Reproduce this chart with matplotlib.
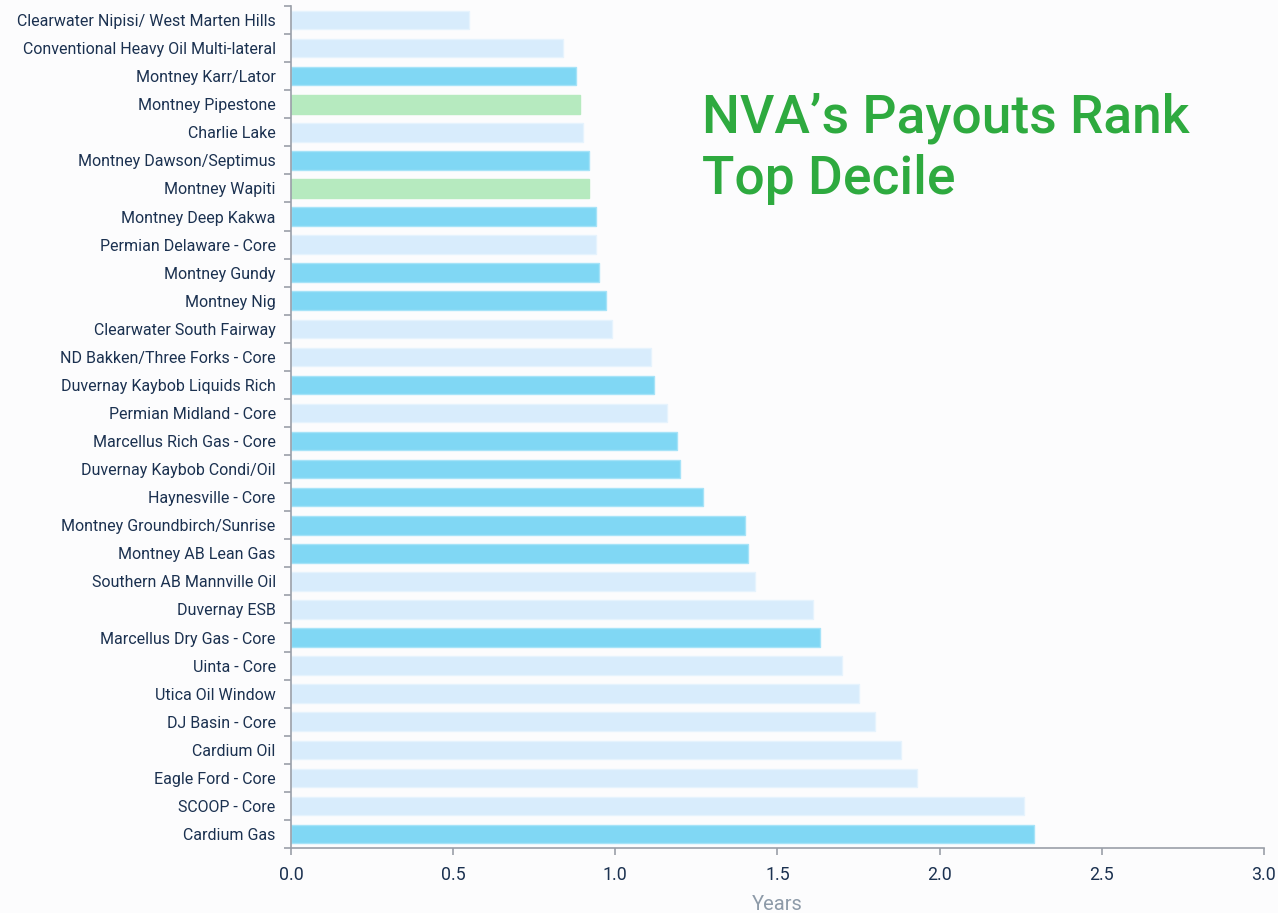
import matplotlib.pyplot as plt
from matplotlib.ticker import FixedLocator

plt.rcParams["font.family"] = ["Roboto", "DejaVu Sans"]

# plays, listed top to bottom
plays = [
    "Clearwater Nipisi/ West Marten Hills", "Conventional Heavy Oil Multi-lateral",
    "Montney Karr/Lator", "Montney Pipestone", "Charlie Lake",
    "Montney Dawson/Septimus", "Montney Wapiti", "Montney Deep Kakwa",
    "Permian Delaware - Core", "Montney Gundy", "Montney Nig",
    "Clearwater South Fairway", "ND Bakken/Three Forks - Core",
    "Duvernay Kaybob Liquids Rich", "Permian Midland - Core",
    "Marcellus Rich Gas - Core", "Duvernay Kaybob Condi/Oil",
    "Haynesville - Core", "Montney Groundbirch/Sunrise", "Montney AB Lean Gas",
    "Southern AB Mannville Oil", "Duvernay ESB", "Marcellus Dry Gas - Core",
    "Uinta - Core", "Utica Oil Window", "DJ Basin - Core", "Cardium Oil",
    "Eagle Ford - Core", "SCOOP - Core", "Cardium Gas",
]
payout_years = [
    0.55, 0.84, 0.88, 0.89, 0.90, 0.92, 0.92, 0.94, 0.94, 0.95, 0.97, 0.99,
    1.11, 1.12, 1.16, 1.19, 1.20, 1.27, 1.40, 1.41, 1.43, 1.61, 1.63, 1.70,
    1.75, 1.80, 1.88, 1.93, 2.26, 2.29,
]
# o = other, b = highlighted peer, g = NVA
group = [
    "o", "o", "b", "g", "o", "b", "g", "b", "o", "b", "b", "o", "o", "b", "o",
    "b", "b", "b", "b", "b", "o", "o", "b", "o", "o", "o", "o", "o", "o", "b",
]

fill = {"o": "#d8ecfc", "b": "#80d7f4", "g": "#b6eabf"}
edge = {"o": "#e6f3fd", "b": "#a6e3f8", "g": "#b6eabf"}
navy = "#1b3150"

fig = plt.figure(figsize=(12.78, 9.13), dpi=100, facecolor="#fcfcfd")
ax = fig.add_axes([0.2277, 0.0712, 0.7613, 0.9222], facecolor="#fcfcfd")

ypos = list(range(len(plays)))
ax.barh(ypos, payout_years, height=0.66,
        color=[fill[g] for g in group],
        edgecolor=[edge[g] for g in group], linewidth=1.0)

ax.set_ylim(len(plays) - 0.5, -0.5)
ax.set_xlim(0, 3.0)
ax.set_yticks(ypos)
ax.set_yticklabels(plays, fontsize=11.5, color=navy)
ax.tick_params(axis="y", which="major", length=0, pad=11)
ax.yaxis.set_minor_locator(FixedLocator([i - 0.5 for i in range(len(plays) + 1)]))
ax.tick_params(axis="y", which="minor", length=5, width=1.2, color="#9a9fa8")

ax.set_xticks([0, 0.5, 1.0, 1.5, 2.0, 2.5, 3.0])
ax.set_xticklabels(["0.0", "0.5", "1.0", "1.5", "2.0", "2.5", "3.0"])
ax.tick_params(axis="x", labelsize=12.8, labelcolor=navy, length=5, width=1.2,
               color="#9a9fa8", pad=8)
ax.set_xlabel("Years", fontsize=14.5, color="#8d9aa8", labelpad=8)

for s in ["top", "right"]:
    ax.spines[s].set_visible(False)
for s in ["left", "bottom"]:
    ax.spines[s].set_color("#9a9fa8")
    ax.spines[s].set_linewidth(1.2)

fig.text(0.549, 0.899, "NVA\u2019s Payouts Rank\nTop Decile", fontsize=38.4,
         fontweight="medium", color="#2eaa3f", va="top", ha="left",
         linespacing=1.25)

fig.savefig("out.png", dpi=100, facecolor=fig.get_facecolor())
